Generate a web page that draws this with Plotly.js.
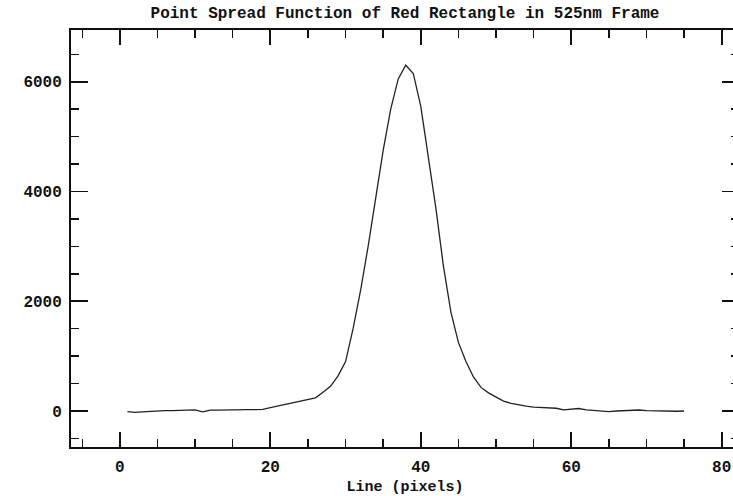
<!DOCTYPE html>
<html>
<head>
<meta charset="utf-8">
<script src="https://cdn.plot.ly/plotly-3.0.1.min.js"></script>
<style>
  html, body { margin: 0; padding: 0; overflow: hidden; background: #fff; }
  #chart { width: 750px; height: 496px; }
</style>
</head>
<body>
<div id="chart"></div>
<script>
// Line position (pixels) and measured intensity
const linePixels = [];
for (let i = 1; i <= 75; i++) linePixels.push(i);
const intensity = [
  -10, -25, -15, -5, 0, 5, 5, 10, 10, 20,
  -15, 15, 15, 20, 25, 25, 25, 25, 30, 60,
  90, 120, 150, 180, 220, 240, 340, 450, 640, 900,
  1500, 2200, 3000, 3850, 4750, 5500, 6050, 6300, 6150, 5550,
  4600, 3700, 2650, 1800, 1250, 900, 620, 430, 330, 250,
  180, 140, 110, 90, 70, 65, 60, 50, 20, 30,
  45, 20, 10, -10, -10, 0, 5, 15, 18, 5,
  0, -5, -12, -5, 0
];
const xTickVals = [0, 20, 40, 60, 80];
const yTickVals = [0, 2000, 4000, 6000];

const chartTitle = "Point Spread Function of Red Rectangle in 525nm Frame";
const xTitle = "Line (pixels)";

const font = "Liberation Mono, Courier New, monospace";

const trace = {
  x: linePixels,
  y: intensity,
  type: "scatter",
  mode: "lines",
  line: { color: "#222", width: 1.3 },
  hoverinfo: "skip"
};

const layout = {
  width: 750,
  height: 496,
  margin: { l: 71, r: 11, t: 30, b: 49 },
  paper_bgcolor: "#fff",
  plot_bgcolor: "#fff",
  showlegend: false,
  title: {
    text: chartTitle,
    font: { family: font, size: 16, color: "#111", weight: "bold" },
    xref: "paper", x: 0.5, xanchor: "center",
    yref: "container", y: 0.975, yanchor: "middle"
  },
  xaxis: {
    range: [-6.5, 82.3],
    tickvals: xTickVals,
    ticks: "inside",
    ticklen: 15,
    tickwidth: 1.8,
    tickcolor: "#111",
    minor: { dtick: 5, tick0: 0, ticks: "inside", ticklen: 8, tickwidth: 1.5, tickcolor: "#111" },
    showline: true,
    linecolor: "#111",
    linewidth: 2,
    mirror: "ticks",
    showgrid: false,
    zeroline: false,
    tickfont: { family: font, size: 16, color: "#111", weight: "bold" },
    ticklabelstandoff: 4,
    title: { text: xTitle, font: { family: font, size: 15, color: "#111", weight: "bold" }, standoff: 8 }
  },
  yaxis: {
    range: [-656, 6942],
    tickvals: yTickVals,
    ticks: "inside",
    ticklen: 17,
    tickwidth: 1.8,
    tickcolor: "#111",
    minor: { dtick: 500, tick0: 0, ticks: "inside", ticklen: 8, tickwidth: 1.5, tickcolor: "#111" },
    showline: true,
    linecolor: "#111",
    linewidth: 2,
    mirror: "ticks",
    showgrid: false,
    zeroline: false,
    tickfont: { family: font, size: 16, color: "#111", weight: "bold" },
    ticklabelstandoff: 4
  }
};

Plotly.newPlot("chart", [trace], layout, { displayModeBar: false, staticPlot: true });
</script>
</body>
</html>
